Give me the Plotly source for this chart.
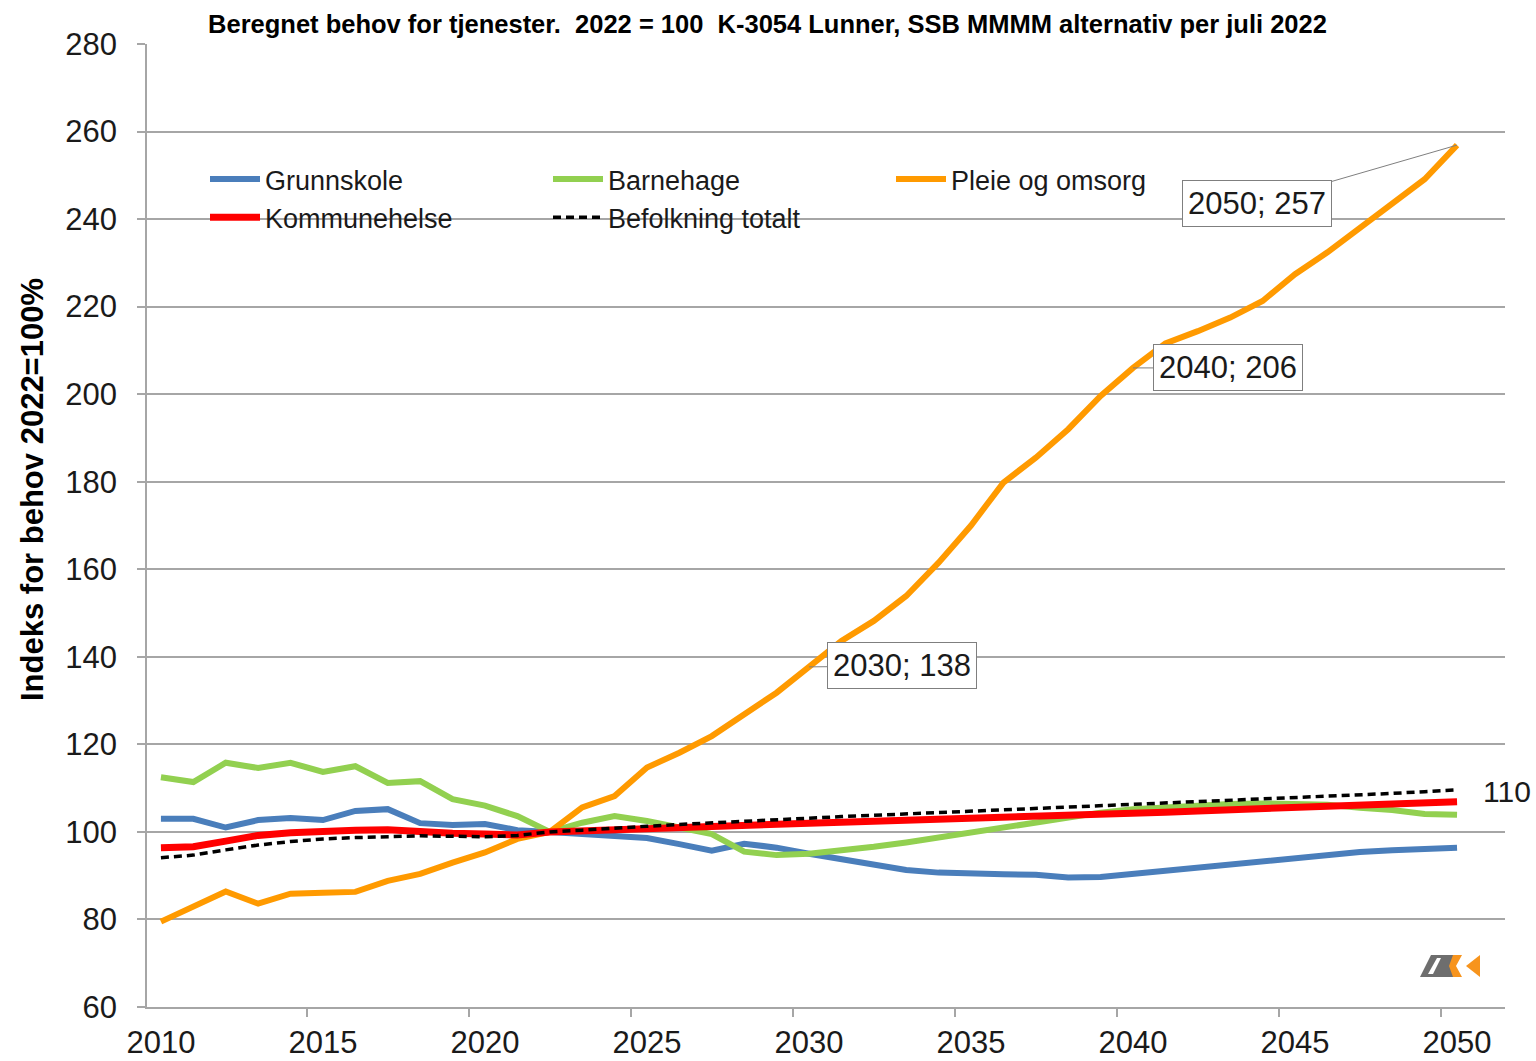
import plotly.graph_objects as go

# ---------------- data ----------------
years = list(range(2010, 2051))

grunnskole = [103.0, 103.0, 101.0, 102.7, 103.2, 102.7, 104.8, 105.2, 102.0, 101.6,
              101.8, 100.4, 100.0, 99.5, 98.9, 98.6, 97.2, 95.7, 97.3, 96.4,
              95.0, 93.8, 92.6, 91.3, 90.7, 90.4, 90.3, 90.2, 89.6, 89.7,
              90.4, 91.1, 91.8, 92.7, 93.3, 94.2, 94.9, 95.4, 95.8, 96.2, 96.4]

barnehage = [112.5, 111.4, 115.8, 114.6, 115.8, 113.7, 115.0, 111.2, 111.6, 107.5,
             106.0, 103.6, 100.0, 102.1, 103.6, 102.5, 101.0, 99.5, 95.5, 94.7,
             95.0, 95.7, 96.6, 97.6, 98.7, 99.8, 101.1, 102.1, 103.4, 104.4,
             105.2, 105.7, 106.1, 106.4, 106.5, 106.5, 106.2, 105.5, 105.0, 104.1, 103.9]

pleie = [79.5, 83.1, 86.4, 83.6, 85.9, 86.1, 86.3, 88.8, 90.4, 93.0,
         95.3, 98.4, 100.0, 105.6, 108.2, 114.7, 118.1, 121.9, 127.0, 131.8,
         137.7, 143.6, 148.2, 153.9, 161.5, 170.0, 179.8, 185.5, 192.0, 199.6,
         206.0, 211.6, 214.4, 217.5, 221.3, 227.4, 232.4, 238.1, 243.8, 249.1, 256.9]

kommunehelse = [96.4, 96.6, 97.9, 99.2, 99.8, 100.2, 100.4, 100.5, 100.0, 99.7,
                99.5, 99.3, 100.0, 100.3, 100.6, 100.9, 101.1, 101.4, 101.6, 101.8,
                102.0, 102.2, 102.4, 102.6, 102.8, 103.0, 103.2, 103.3, 103.6, 103.9,
                104.2, 104.5, 104.8, 105.1, 105.4, 105.6, 105.9, 106.2, 106.4, 106.7, 106.9]

befolkning = [94.1, 94.7, 95.9, 97.0, 97.8, 98.4, 98.7, 99.0, 99.1, 99.0,
              98.9, 99.2, 100.0, 100.4, 100.9, 101.3, 101.7, 102.1, 102.5, 102.8,
              103.2, 103.5, 103.8, 104.1, 104.5, 104.8, 105.2, 105.5, 105.8, 106.1,
              106.4, 106.7, 107.0, 107.3, 107.6, 107.9, 108.2, 108.5, 108.8, 109.2, 109.6]

x_ticks = [2010, 2015, 2020, 2025, 2030, 2035, 2040, 2045, 2050]
y_ticks = list(range(60, 281, 20))
label_years = [2030, 2040, 2050]

title_text = "Beregnet behov for tjenester.  2022 = 100  K-3054 Lunner, SSB MMMM alternativ per juli 2022"
y_title = "Indeks for behov 2022=100%"

# ---------------- figure ----------------
W, H = 1536, 1061
ML, MR, MT, MB = 147, 31, 44, 54
PW, PH = W - ML - MR, H - MT - MB
FONT = "Liberation Sans, Arial, sans-serif"


def px2paper(px, py):
    return (px - ML) / PW, (H - MB - py) / PH


fig = go.Figure()
series = [
    ("Grunnskole", grunnskole, "#4A7EBB", 6, "solid"),
    ("Barnehage", barnehage, "#92D050", 6, "solid"),
    ("Pleie og omsorg", pleie, "#FF9A00", 6, "solid"),
    ("Kommunehelse", kommunehelse, "#FF0000", 7, "solid"),
    ("Befolkning totalt", befolkning, "#000000", 3.5, "8px,5px"),
]
for name, vals, col, w, dash in series:
    fig.add_trace(go.Scatter(x=years, y=vals, name=name, mode="lines",
                             line=dict(color=col, width=w, dash=dash)))

# data labels on Pleie og omsorg
offsets = {2030: (93, -1), 2040: (95, 0), 2050: (-200, 58)}
for yr in label_years:
    v = pleie[years.index(yr)]
    ax, ay = offsets[yr]
    fig.add_annotation(x=yr, y=v, text=f"{yr}; {round(v)}", showarrow=True,
                       arrowhead=0, arrowwidth=1, arrowcolor="#7F7F7F",
                       ax=ax, ay=ay, bgcolor="white", bordercolor="#7F7F7F",
                       borderwidth=1, borderpad=5,
                       font=dict(family=FONT, size=31, color="#1a1a1a"))

# end label for Befolkning totalt
fig.add_annotation(x=years[-1], y=befolkning[-1], text=f"{round(befolkning[-1])}",
                   showarrow=False, xanchor="left", xshift=24, yshift=-2,
                   font=dict(family=FONT, size=30, color="#1a1a1a"))

# y-axis title as annotation (placed like the original)
fig.add_annotation(xref="paper", yref="paper", x=(32 - ML) / PW, y=(H - MB - 490) / PH,
                   text=f"<b>{y_title}</b>", textangle=-90, showarrow=False,
                   xanchor="center", yanchor="middle",
                   font=dict(family=FONT, size=31, color="#000000"))

# small logo in the lower right corner
def path(pts):
    s = ""
    for i, (a, b) in enumerate(pts):
        xx, yy = px2paper(a, b)
        s += ("M" if i == 0 else "L") + f"{xx:.5f},{yy:.5f} "
    return s + "Z"

fig.add_shape(type="path", xref="paper", yref="paper", line_width=0, fillcolor="#6E6E6E",
              path=path([(1420, 977), (1431, 955), (1453, 955), (1453, 977)]))
fig.add_shape(type="path", xref="paper", yref="paper", line_width=0, fillcolor="white",
              path=path([(1428, 974), (1437, 958), (1441, 958), (1433, 974)]))
fig.add_shape(type="path", xref="paper", yref="paper", line_width=0, fillcolor="#F7941D",
              path=path([(1453, 955), (1462, 955), (1456, 966), (1462, 977), (1453, 977), (1449, 966)]))
fig.add_shape(type="path", xref="paper", yref="paper", line_width=0, fillcolor="#F7941D",
              path=path([(1480, 955), (1480, 977), (1466, 966)]))

fig.update_layout(
    width=W, height=H,
    margin=dict(l=ML, r=MR, t=MT, b=MB, autoexpand=False),
    paper_bgcolor="white", plot_bgcolor="white",
    font=dict(family=FONT, color="#1a1a1a"),
    title=dict(text=f"<b>{title_text}</b>", x=(767.5 - ML) / PW, xref="paper",
               xanchor="center", y=1 - 24 / H, yanchor="middle",
               font=dict(family=FONT, size=25.5, color="#000")),
    showlegend=True,
    legend=dict(orientation="h", x=(205 - ML) / PW, y=(H - MB - 155) / PH,
                xanchor="left", yanchor="top",
                bgcolor="rgba(0,0,0,0)", entrywidth=278, entrywidthmode="pixels",
                font=dict(family=FONT, size=27, color="#1a1a1a"), itemwidth=50,
                tracegroupgap=0),
    xaxis=dict(range=[2009.57, 2051.48], tickvals=x_ticks, ticks="", showgrid=False,
               showline=True, linecolor="#A6A6A6", linewidth=1.5, zeroline=False,
               ticklabelstandoff=7, automargin=False,
               tickfont=dict(family=FONT, size=31, color="#1a1a1a"),
               minor=dict(tickvals=[t - 0.5 for t in x_ticks], ticks="outside",
                          ticklen=8, tickcolor="#A6A6A6", tickwidth=1.5, showgrid=False)),
    yaxis=dict(range=[60, 280], tickvals=y_ticks, ticks="outside", ticklen=8,
               tickcolor="#A6A6A6", tickwidth=1.5, showgrid=True, gridcolor="#A6A6A6",
               gridwidth=1.5, showline=True, linecolor="#A6A6A6", linewidth=1.5,
               zeroline=False, ticklabelstandoff=14, automargin=False,
               tickfont=dict(family=FONT, size=31, color="#1a1a1a")),
)

fig.write_html("out.html", config={"displayModeBar": False},
               post_script="document.body.style.margin='0';")
